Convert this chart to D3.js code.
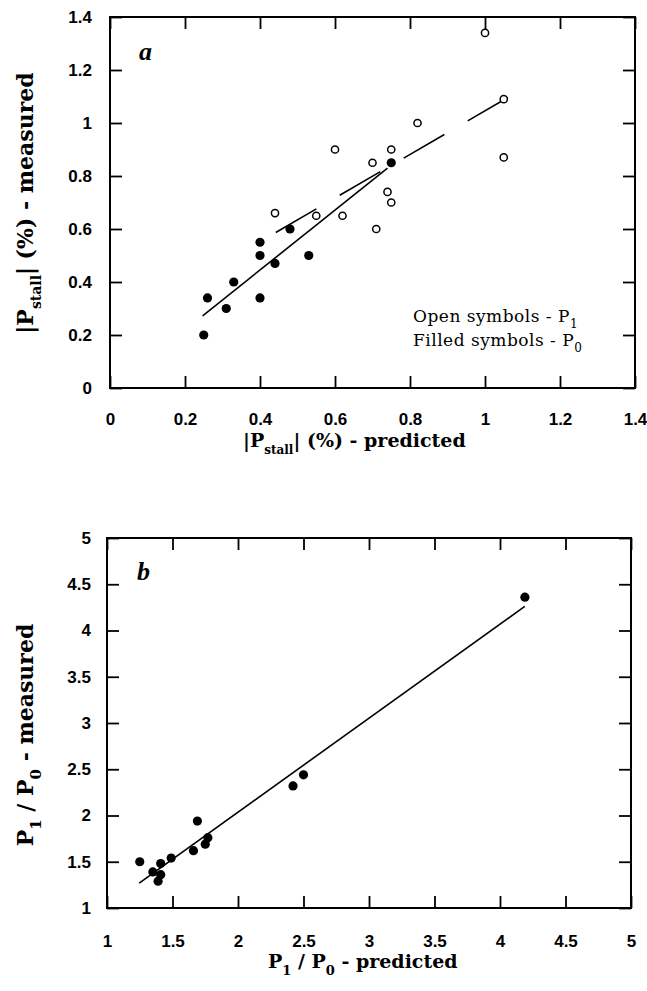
<!DOCTYPE html>
<html>
<head>
<meta charset="utf-8">
<script src="https://cdn.jsdelivr.net/npm/d3@7"></script>
<style>
  body { margin: 0; background: #fff; }
  .tick text { font-family: "Liberation Sans", Arial, sans-serif; font-size: 17px; font-weight: bold; fill: #000; }
  .lab { font-family: "DejaVu Serif", serif; font-weight: bold; font-size: 19px; fill: #000; }
  .ylab { font-size: 22px; }
  .legend { font-family: "DejaVu Serif", serif; font-size: 17px; letter-spacing: 0.5px; fill: #000; }
  .panel { font-family: "Liberation Serif", serif; font-size: 26px; font-weight: bold; font-style: italic; }
</style>
</head>
<body>
<svg id="chart" width="647" height="991"></svg>
<script>
// panel a: |P_stall| (%) predicted vs measured
let filledX = [0.25, 0.26, 0.31, 0.33, 0.40, 0.40, 0.40, 0.44, 0.48, 0.53, 0.75];
let filledY = [0.20, 0.34, 0.30, 0.40, 0.34, 0.50, 0.55, 0.47, 0.60, 0.50, 0.85];
let openX = [0.44, 0.55, 0.60, 0.62, 0.70, 0.71, 0.74, 0.75, 0.75, 0.82, 1.00, 1.05, 1.05];
let openY = [0.66, 0.65, 0.90, 0.65, 0.85, 0.60, 0.74, 0.70, 0.90, 1.00, 1.34, 1.09, 0.87];
let fitFilledA = [[0.247, 0.272], [0.74, 0.83]];
let fitOpenA = [[0.442, 0.587], [1.061, 1.096]];
let ticksA = [0, 0.2, 0.4, 0.6, 0.8, 1, 1.2, 1.4];

// panel b: P1/P0 predicted vs measured
let ratioX = [1.25, 1.35, 1.41, 1.41, 1.39, 1.49, 1.66, 1.69, 1.75, 1.77, 2.42, 2.50, 4.19];
let ratioY = [1.50, 1.39, 1.48, 1.36, 1.29, 1.54, 1.62, 1.94, 1.69, 1.76, 2.32, 2.44, 4.36];
let fitB = [[1.246, 1.27], [4.189, 4.26]];
let ticksB = [1, 1.5, 2, 2.5, 3, 3.5, 4, 4.5, 5];

let svg = d3.select("#chart");

function frame(g, x, y, ticks, fmt, padX, padY) {
    let [x0, x1] = x.range();
    let [y0, y1] = y.range();
    g.append("g").attr("transform", `translate(0,${y0})`)
        .call(d3.axisBottom(x).tickValues(ticks).tickFormat(fmt).tickSize(-12).tickSizeOuter(0).tickPadding(padX));
    g.append("g").attr("transform", `translate(0,${y1})`)
        .call(d3.axisTop(x).tickValues(ticks).tickFormat("").tickSize(-12).tickSizeOuter(0));
    g.append("g").attr("transform", `translate(${x0},0)`)
        .call(d3.axisLeft(y).tickValues(ticks).tickFormat(fmt).tickSize(-12).tickSizeOuter(0).tickPadding(padY));
    g.append("g").attr("transform", `translate(${x1},0)`)
        .call(d3.axisRight(y).tickValues(ticks).tickFormat("").tickSize(-12).tickSizeOuter(0));
    g.selectAll(".domain").remove();
    g.selectAll(".tick line").attr("stroke", "#000").attr("stroke-width", 1.8);
    g.append("rect")
        .attr("x", x0).attr("y", y1)
        .attr("width", x1 - x0).attr("height", y0 - y1)
        .attr("fill", "none").attr("stroke", "#000").attr("stroke-width", 2);
}

// ---- panel a
let xA = d3.scaleLinear().domain([0, 1.4]).range([110, 635]);
let yA = d3.scaleLinear().domain([0, 1.4]).range([388, 17]);
let gA = svg.append("g");
frame(gA, xA, yA, ticksA, d => d3.format("")(+d.toFixed(1)), 25, 18);

gA.append("line")
    .attr("x1", xA(fitFilledA[0][0])).attr("y1", yA(fitFilledA[0][1]))
    .attr("x2", xA(fitFilledA[1][0])).attr("y2", yA(fitFilledA[1][1]))
    .attr("stroke", "#000").attr("stroke-width", 1.6);
gA.append("line")
    .attr("x1", xA(fitOpenA[0][0])).attr("y1", yA(fitOpenA[0][1]))
    .attr("x2", xA(fitOpenA[1][0])).attr("y2", yA(fitOpenA[1][1]))
    .attr("stroke", "#000").attr("stroke-width", 1.6)
    .attr("stroke-dasharray", "47,27");

gA.append("g").selectAll("circle")
    .data(openX.map((d, i) => [d, openY[i]]))
    .enter().append("circle")
    .attr("cx", d => xA(d[0])).attr("cy", d => yA(d[1]))
    .attr("r", 3.6).attr("fill", "#fff").attr("stroke", "#000").attr("stroke-width", 1.5);
gA.append("g").selectAll("circle")
    .data(filledX.map((d, i) => [d, filledY[i]]))
    .enter().append("circle")
    .attr("cx", d => xA(d[0])).attr("cy", d => yA(d[1]))
    .attr("r", 4.6).attr("fill", "#000");

gA.append("text").attr("class", "panel").attr("x", 139).attr("y", 60).text("a");

let legA = gA.append("g").attr("class", "legend");
let l1 = legA.append("text").attr("x", 413).attr("y", 322);
l1.append("tspan").text("Open symbols  - P");
l1.append("tspan").attr("dy", 6).attr("font-size", 12).text("1");
let l2 = legA.append("text").attr("x", 413).attr("y", 346);
l2.append("tspan").text("Filled symbols  - P");
l2.append("tspan").attr("dy", 6).attr("font-size", 12).text("0");

let xlabA = gA.append("text").attr("class", "lab").attr("x", 243).attr("y", 447);
xlabA.append("tspan").text("|P");
xlabA.append("tspan").attr("dy", 7).attr("font-size", 12).text("stall");
xlabA.append("tspan").attr("dy", -7).text("| (%) - predicted");

let ylabA = gA.append("text").attr("class", "lab ylab")
    .attr("transform", "translate(33,203) rotate(-90)").attr("text-anchor", "middle");
ylabA.append("tspan").text("|P");
ylabA.append("tspan").attr("dy", 8).attr("font-size", 14).text("stall");
ylabA.append("tspan").attr("dy", -8).text("| (%) - measured");

// ---- panel b
let xB = d3.scaleLinear().domain([1, 5]).range([107, 631]);
let yB = d3.scaleLinear().domain([1, 5]).range([908, 538]);
let gB = svg.append("g");
frame(gB, xB, yB, ticksB, d => String(d), 27, 16);

gB.append("line")
    .attr("x1", xB(fitB[0][0])).attr("y1", yB(fitB[0][1]))
    .attr("x2", xB(fitB[1][0])).attr("y2", yB(fitB[1][1]))
    .attr("stroke", "#000").attr("stroke-width", 1.6);

gB.append("g").selectAll("circle")
    .data(ratioX.map((d, i) => [d, ratioY[i]]))
    .enter().append("circle")
    .attr("cx", d => xB(d[0])).attr("cy", d => yB(d[1]))
    .attr("r", 4.6).attr("fill", "#000");

gB.append("text").attr("class", "panel").attr("x", 137).attr("y", 580).text("b");

let xlabB = gB.append("text").attr("class", "lab").attr("x", 268).attr("y", 968);
xlabB.append("tspan").text("P");
xlabB.append("tspan").attr("dy", 7).attr("font-size", 13).text("1");
xlabB.append("tspan").attr("dy", -7).text(" / P");
xlabB.append("tspan").attr("dy", 7).attr("font-size", 13).text("0");
xlabB.append("tspan").attr("dy", -7).text(" - predicted");

let ylabB = gB.append("text").attr("class", "lab ylab")
    .attr("transform", "translate(33,735) rotate(-90)").attr("text-anchor", "middle");
ylabB.append("tspan").text("P");
ylabB.append("tspan").attr("dy", 8).attr("font-size", 15).text("1");
ylabB.append("tspan").attr("dy", -8).text(" / P");
ylabB.append("tspan").attr("dy", 8).attr("font-size", 15).text("0");
ylabB.append("tspan").attr("dy", -8).text(" - measured");
</script>
</body>
</html>
